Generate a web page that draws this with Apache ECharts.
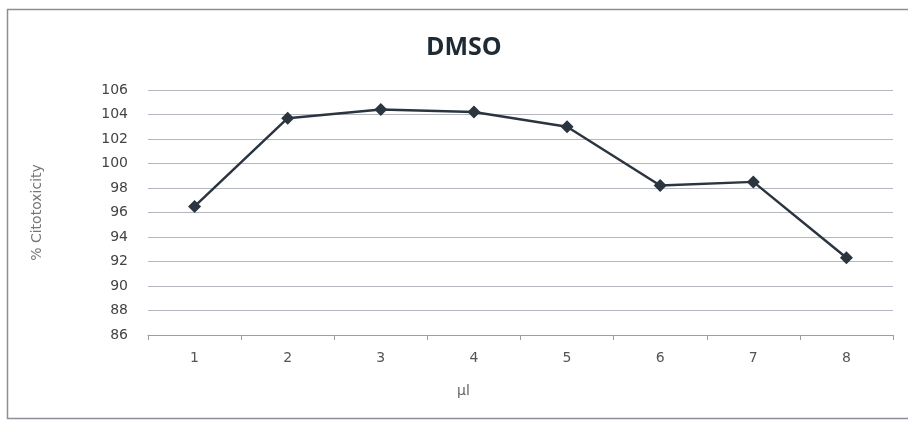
<!DOCTYPE html>
<html>
<head>
<meta charset="utf-8">
<script src="https://cdn.jsdelivr.net/npm/echarts@6/dist/echarts.min.js"></script>
<style>
  html, body { margin: 0; padding: 0; background: #fff; }
  #chart { width: 908px; height: 421px; }
</style>
</head>
<body>
<div id="chart"></div>
<script>
// Volume categories (µl) and measured cytotoxicity
const volumes = ['1', '2', '3', '4', '5', '6', '7', '8'];
const cytotoxicity = [96.5, 103.7, 104.4, 104.2, 103.0, 98.2, 98.5, 92.3];
const yMin = 86;
const yMax = 106;
const yStep = 2;

const chart = echarts.init(document.getElementById('chart'));
chart.setOption({
  animation: false,
  backgroundColor: '#ffffff',
  graphic: [
    {
      type: 'rect',
      shape: { x: 7.5, y: 9.5, width: 920, height: 409 },
      style: { fill: 'none', stroke: '#8a8f99', lineWidth: 1.5 },
      silent: true
    },
    {
      type: 'text',
      left: 457,
      top: 384,
      style: { text: 'µl', fontFamily: 'DejaVu Sans', fontSize: 14, fill: '#666' },
      silent: true
    }
  ],
  title: {
    text: 'DMSO',
    left: 421,
    top: 30,
    textStyle: { fontFamily: 'Open Sans', fontWeight: 'bold', fontSize: 25, color: '#1f2a33' }
  },
  grid: { left: 148, right: 15, top: 90, bottom: 86 },
  xAxis: {
    type: 'category',
    data: volumes,
    boundaryGap: true,
    axisLine: { lineStyle: { color: '#9a9da3', width: 1 } },
    axisTick: { show: true, alignWithLabel: false, length: 5, lineStyle: { color: '#9a9da3' } },
    axisLabel: { fontFamily: 'DejaVu Sans', fontSize: 14, color: '#555', margin: 16 },
    splitLine: { show: false }
  },
  yAxis: {
    type: 'value',
    min: yMin,
    max: yMax,
    interval: yStep,
    name: '% Citotoxicity',
    nameLocation: 'middle',
    nameGap: 104,
    nameRotate: 90,
    nameTextStyle: { fontFamily: 'DejaVu Sans', fontSize: 14, color: '#777' },
    axisLine: { show: false },
    axisTick: { show: false },
    axisLabel: { fontFamily: 'DejaVu Sans', fontSize: 14, color: '#444', margin: 20 },
    splitLine: { show: true, lineStyle: { color: '#b4b7c0', width: 1.2 } }
  },
  series: [{
    type: 'line',
    data: cytotoxicity,
    symbol: 'diamond',
    symbolSize: 13,
    lineStyle: { color: '#2b3540', width: 2.5 },
    itemStyle: { color: '#2b3540' }
  }]
});
</script>
</body>
</html>
